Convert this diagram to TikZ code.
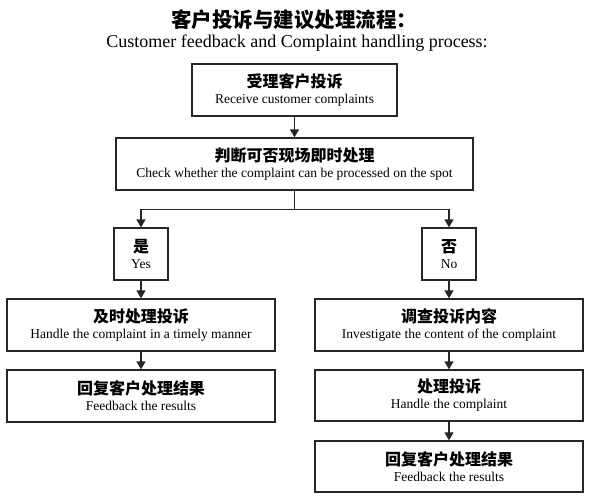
\documentclass[tikz,border=0pt]{standalone}
\usepackage{fontspec}
\setmainfont{Liberation Serif}
\newfontfamily\cjk{Noto Sans CJK SC}
\usetikzlibrary{arrows.meta}
\tikzset{
  box/.style={draw=black!85, line width=1.3pt, inner sep=0pt, align=center, minimum height=52pt},
  wide/.style={box, minimum width=268pt},
  arr/.style={draw=black!85, line width=1.3pt, -{Triangle[length=8pt,width=9pt]}},
  ln/.style={draw=black!85, line width=1.3pt},
}
\newcommand{\zh}[1]{{\cjk\bfseries\fontsize{16}{16}\selectfont #1}}
\newcommand{\en}[1]{{\fontsize{13.5}{13.5}\selectfont #1}}
\begin{document}
\begin{tikzpicture}[x=1pt,y=-1pt]
\useasboundingbox (0,0) rectangle (592,501);
\node (title) at (294,20) {\cjk\bfseries\fontsize{20.5}{20.5}\selectfont 客户投诉与建议处理流程：};
\node (sub) at (297,43) {\fontsize{18}{18}\selectfont Customer feedback and Complaint handling process:};
\node[box, minimum width=205pt] (b1) at (294.5,90) {\zh{受理客户投诉}\\[4pt]\en{Receive customer complaints}};
\node[box, minimum width=357pt] (b2) at (294.5,164) {\zh{判断可否现场即时处理}\\[4pt]\en{Check whether the complaint can be processed on the spot}};
\node[box, minimum width=54pt] (yes) at (141,254) {\zh{是}\\[4pt]\en{Yes}};
\node[box, minimum width=54pt] (no) at (449,254) {\zh{否}\\[4pt]\en{No}};
\node[wide] (l1) at (141,325) {\zh{及时处理投诉}\\[4pt]\en{Handle the complaint in a timely manner}};
\node[wide] (l2) at (141,396) {\zh{回复客户处理结果}\\[4pt]\en{Feedback the results}};
\node[wide] (r1) at (449,325) {\zh{调查投诉内容}\\[4pt]\en{Investigate the content of the complaint}};
\node[wide, minimum height=51pt] (r2) at (449,395.5) {\zh{处理投诉}\\[4pt]\en{Handle the complaint}};
\node[wide, minimum height=51pt] (r3) at (449,466.5) {\zh{回复客户处理结果}\\[4pt]\en{Feedback the results}};
\draw[arr] (b1) -- (b2);
\draw[ln] (b2.south) -- ++(0,19) coordinate (split);
\draw[arr] (split) -| (yes.north);
\draw[arr] (split) -| (no.north);
\draw[arr] (yes) -- (l1);
\draw[arr] (l1) -- (l2);
\draw[arr] (no) -- (r1);
\draw[arr] (r1) -- (r2);
\draw[arr] (r2) -- (r3);
\end{tikzpicture}
\end{document}
